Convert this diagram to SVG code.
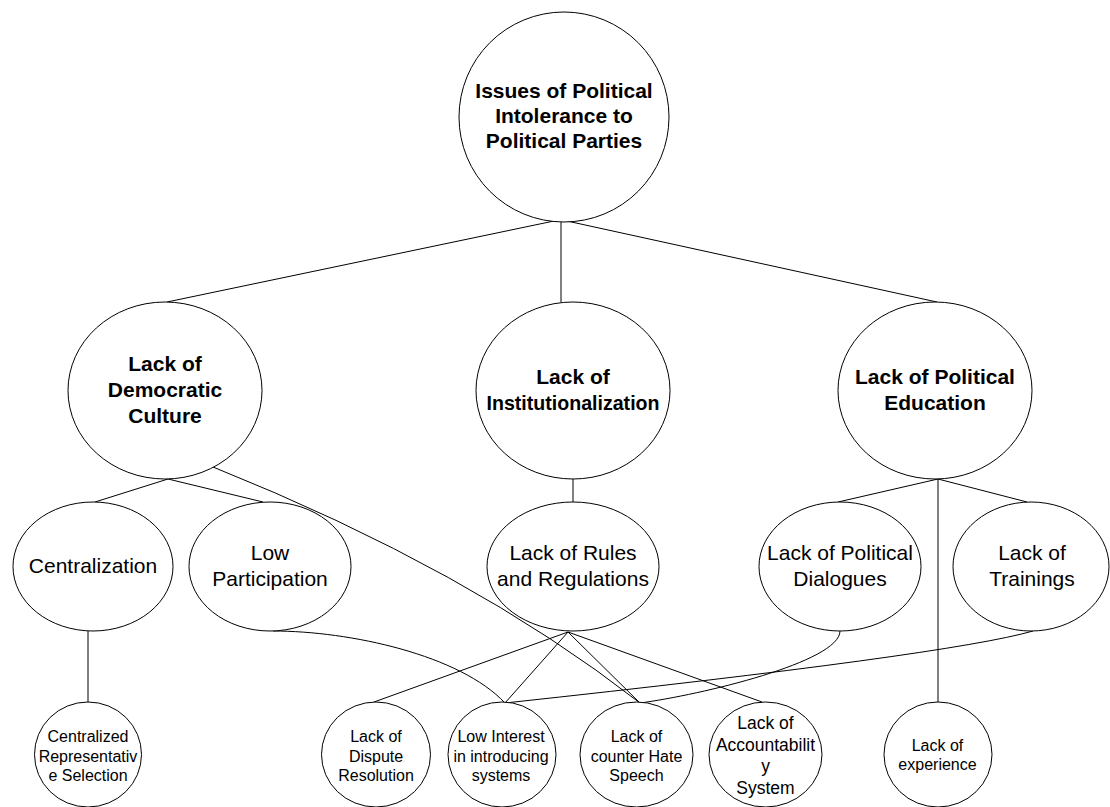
<svg xmlns="http://www.w3.org/2000/svg" width="1110" height="807" viewBox="0 0 1110 807">
<style>
.bg{fill:#fff}
.n ellipse{fill:#fff;stroke:#000;stroke-width:1}
.c path{fill:none;stroke:#000;stroke-width:1}
text{font-family:"Liberation Sans",Arial,sans-serif;text-anchor:middle;fill:#000}
.b{font-weight:bold;font-size:21px}
.m{font-size:21px}
.s{font-size:16px}
.a{font-size:17.5px}
</style>
<rect class="bg" x="0" y="0" width="1110" height="807"/>
<g id="connectors" class="c">
<path d="M554,221 L167,302"/>
<path d="M561,222 L561,302"/>
<path d="M567,221 L937,302"/>
<path d="M168,479 L95,502"/>
<path d="M168,479 L263,502"/>
<path d="M213,467 Q470,570 640,703"/>
<path d="M573,479 L573,502"/>
<path d="M938,479 L838,502"/>
<path d="M938,479 L1027,502"/>
<path d="M938,479 L938,702"/>
<path d="M88,631 L88,702"/>
<path d="M273,631 C350,631 460,655 505,703"/>
<path d="M568,632 L374,702"/>
<path d="M568,632 L505,703"/>
<path d="M568,632 L640,703"/>
<path d="M568,632 L762,702"/>
<path d="M840,631 C840,662 700,695 640,703"/>
<path d="M1033,631 Q950,655 505,703"/>
</g>
<g id="n-root" class="n">
<ellipse cx="564" cy="117" rx="105" ry="105"/>
<text class="b" x="564" y="98">Issues of Political</text>
<text class="b" x="564" y="123">Intolerance to</text>
<text class="b" x="564" y="148">Political Parties</text>
</g>
<g id="n-democratic" class="n">
<ellipse cx="165" cy="390.5" rx="97" ry="88.5"/>
<text class="b" x="165" y="371">Lack of</text>
<text class="b" x="165" y="397">Democratic</text>
<text class="b" x="165" y="423">Culture</text>
</g>
<g id="n-institution" class="n">
<ellipse cx="573" cy="390.5" rx="97" ry="88.5"/>
<text class="b" x="573" y="384">Lack of</text>
<text class="b" x="573" y="410" textLength="173" lengthAdjust="spacingAndGlyphs">Institutionalization</text>
</g>
<g id="n-education" class="n">
<ellipse cx="935" cy="390.5" rx="97" ry="88.5"/>
<text class="b" x="935" y="384">Lack of Political</text>
<text class="b" x="935" y="410">Education</text>
</g>
<g id="n-centralization" class="n">
<ellipse cx="93" cy="566.5" rx="80" ry="64.5"/>
<text class="m" x="93" y="573">Centralization</text>
</g>
<g id="n-participation" class="n">
<ellipse cx="270" cy="566.5" rx="81" ry="64.5"/>
<text class="m" x="270" y="560">Low</text>
<text class="m" x="270" y="586">Participation</text>
</g>
<g id="n-rules" class="n">
<ellipse cx="573" cy="566.5" rx="86" ry="64.5"/>
<text class="m" x="573" y="560">Lack of Rules</text>
<text class="m" x="573" y="586">and Regulations</text>
</g>
<g id="n-dialogues" class="n">
<ellipse cx="840" cy="566.5" rx="81" ry="64.5"/>
<text class="m" x="840" y="560">Lack of Political</text>
<text class="m" x="840" y="586">Dialogues</text>
</g>
<g id="n-trainings" class="n">
<ellipse cx="1031" cy="566.5" rx="78" ry="64.5"/>
<text class="m" x="1032" y="560">Lack of</text>
<text class="m" x="1032" y="586">Trainings</text>
</g>
<g id="n-centralized-rep" class="n">
<ellipse cx="88" cy="754.5" rx="53.5" ry="52.5"/>
<text class="s" x="88" y="742">Centralized</text>
<text class="s" x="88" y="761.5">Representativ</text>
<text class="s" x="88" y="781">e Selection</text>
</g>
<g id="n-dispute" class="n">
<ellipse cx="376" cy="754.5" rx="54.5" ry="52.5"/>
<text class="s" x="376" y="742">Lack of</text>
<text class="s" x="376" y="761.5">Dispute</text>
<text class="s" x="376" y="781">Resolution</text>
</g>
<g id="n-low-interest" class="n">
<ellipse cx="502" cy="754.5" rx="54" ry="52.5"/>
<text class="s" x="501" y="742">Low Interest</text>
<text class="s" x="501" y="761.5">in introducing</text>
<text class="s" x="501" y="781">systems</text>
</g>
<g id="n-hate-speech" class="n">
<ellipse cx="636.5" cy="754.5" rx="56.5" ry="52.5"/>
<text class="s" x="636.5" y="742">Lack of</text>
<text class="s" x="636.5" y="761.5">counter Hate</text>
<text class="s" x="636.5" y="781">Speech</text>
</g>
<g id="n-accountability" class="n">
<ellipse cx="765.5" cy="754.5" rx="56.5" ry="52.5"/>
<text class="a" x="765.5" y="729">Lack of</text>
<text class="a" x="765.5" y="751">Accountabilit</text>
<text class="a" x="765.5" y="772">y</text>
<text class="a" x="765.5" y="794">System</text>
</g>
<g id="n-experience" class="n">
<ellipse cx="938" cy="754.5" rx="54" ry="52.5"/>
<text class="s" x="937.5" y="751">Lack of</text>
<text class="s" x="937.5" y="770">experience</text>
</g>
</svg>
